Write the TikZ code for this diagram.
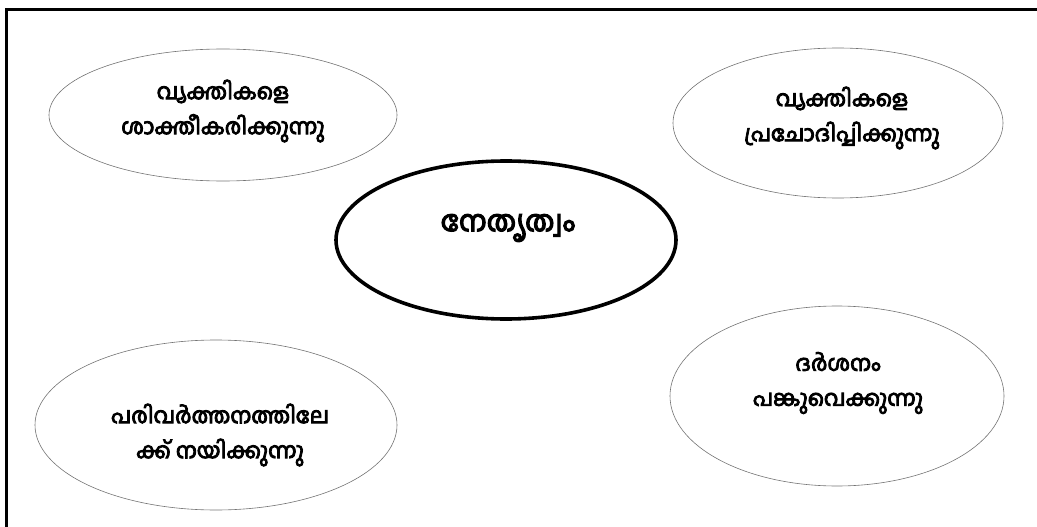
\documentclass[tikz,border=0pt]{standalone}
\usepackage{fontspec}
\newfontfamily\mlfont[Script=Malayalam, FakeBold=4]{Hind Kochi}
\usetikzlibrary{shapes.geometric}
\tikzset{
  idea/.style={ellipse, draw=black!55, line width=0.6pt, inner sep=0pt},
  ideatext/.style={align=center, inner sep=0pt,
    font=\mlfont\fontsize{22}{35}\selectfont},
  core/.style={ellipse, draw=black, line width=3.6pt, inner sep=0pt},
  coretext/.style={inner sep=0pt, font=\mlfont\fontsize{29}{36}\selectfont},
}
\begin{document}
\begin{tikzpicture}[x=1pt, y=-1pt]
\useasboundingbox (0,0) rectangle (1037,527);
\begin{scope}
  \clip (0,0) rectangle (1037,527);
  \draw[line width=3pt] (6.5,9.5) rectangle (1060,560);
\end{scope}

\node[core, minimum width=340, minimum height=158] (lead) at (506,240) {};
\node[coretext] (leadtxt) at (508,228) {നേതൃത്വം};

\node[idea, minimum width=348, minimum height=132] (empower) at (223,115) {};
\node[ideatext] (empowertxt) at (223,111) {വ്യക്തികളെ\\ശാക്തീകരിക്കുന്നു};

\node[idea, minimum width=330, minimum height=150] (inspire) at (838,123) {};
\node[ideatext] (inspiretxt) at (842,118) {വ്യക്തികളെ\\പ്രചോദിപ്പിക്കുന്നു};

\node[idea, minimum width=362, minimum height=170] (change) at (216,425) {};
\node[ideatext] (changetxt) at (220,435) {പരിവർത്തനത്തിലേ\\ക്ക് നയിക്കുന്നു};

\node[idea, minimum width=334, minimum height=180] (vision) at (837,396) {};
\node[ideatext] (visiontxt) at (838,383) {ദർശനം\\പങ്കുവെക്കുന്നു};
\end{tikzpicture}
\end{document}
